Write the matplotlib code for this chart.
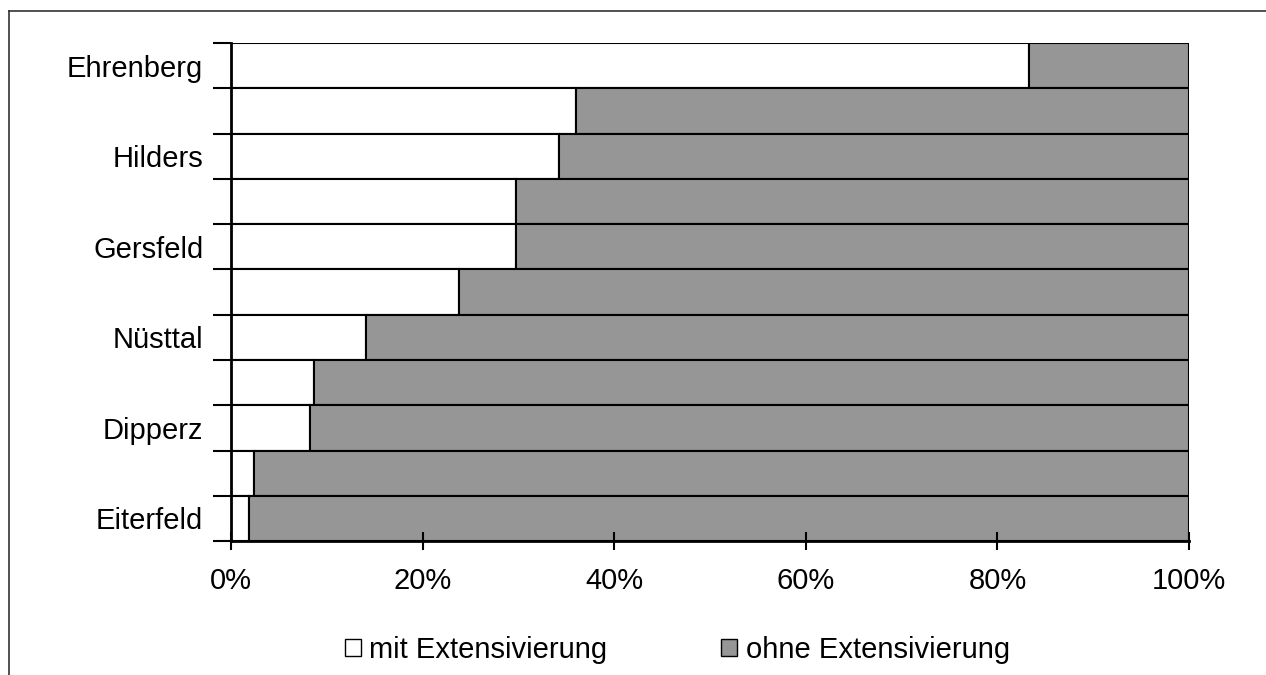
import matplotlib.pyplot as plt
from matplotlib.patches import Patch
from matplotlib.ticker import FixedLocator, PercentFormatter
import numpy as np

# share of area with / without extensification, top to bottom
labels = ["Ehrenberg", "", "Hilders", "", "Gersfeld", "", "Nüsttal", "", "Dipperz", "", "Eiterfeld"]
mit = [83.3, 36.0, 34.2, 29.7, 29.7, 23.8, 14.1, 8.7, 8.2, 2.4, 1.9]
ohne = [100 - v for v in mit]

plt.rcParams['font.family'] = ['Liberation Sans', 'DejaVu Sans']
fs = 21

fig = plt.figure(figsize=(12.66, 6.75), dpi=100)
ax = fig.add_axes([0.1825, 0.1985, 0.9392 - 0.1825, 0.936 - 0.1985])

y = np.arange(len(labels))
ax.barh(y, mit, height=1.0, color="white", edgecolor="black", linewidth=1.5)
ax.barh(y, ohne, left=mit, height=1.0, color="#969696", edgecolor="black", linewidth=1.5)

ax.set_xlim(0, 100)
ax.set_ylim(len(labels) - 0.5, -0.5)

# boundaries as major ticks, names as minor ticks
ax.yaxis.set_major_locator(FixedLocator(np.arange(-0.5, len(labels), 1.0)))
ax.yaxis.set_major_formatter(plt.NullFormatter())
ax.yaxis.set_minor_locator(FixedLocator(y))
ax.set_yticklabels(labels, minor=True)
ax.tick_params(axis="y", which="major", length=13, width=1.5, direction="out")
ax.tick_params(axis="y", which="minor", length=0, pad=20, labelsize=fs)

ax.set_xticks([0, 20, 40, 60, 80, 100])
ax.xaxis.set_major_formatter(PercentFormatter(decimals=0))
ax.tick_params(axis="x", length=13, width=1.5, direction="inout", labelsize=fs, pad=12)

for s in ["top", "right"]:
    ax.spines[s].set_visible(False)
ax.spines["left"].set_linewidth(2)
ax.spines["bottom"].set_linewidth(2)

handles = [Patch(facecolor="white", edgecolor="black", label="mit Extensivierung"),
           Patch(facecolor="#969696", edgecolor="black", label="ohne Extensivierung")]
fig.legend(handles=handles, loc="center", bbox_to_anchor=(0.535, 0.037), ncol=2,
           frameon=False, fontsize=fs, handlelength=0.55, handleheight=0.55,
           handletextpad=0.3, columnspacing=3.9)

# frame lines of the original picture (top and left only)
fig.add_artist(plt.Line2D([0.007, 1.0], [0.983, 0.983], transform=fig.transFigure, color="#333333", linewidth=1.2))
fig.add_artist(plt.Line2D([0.007, 0.007], [0.0, 0.983], transform=fig.transFigure, color="#333333", linewidth=1.2))

fig.savefig("out.png", dpi=100)
